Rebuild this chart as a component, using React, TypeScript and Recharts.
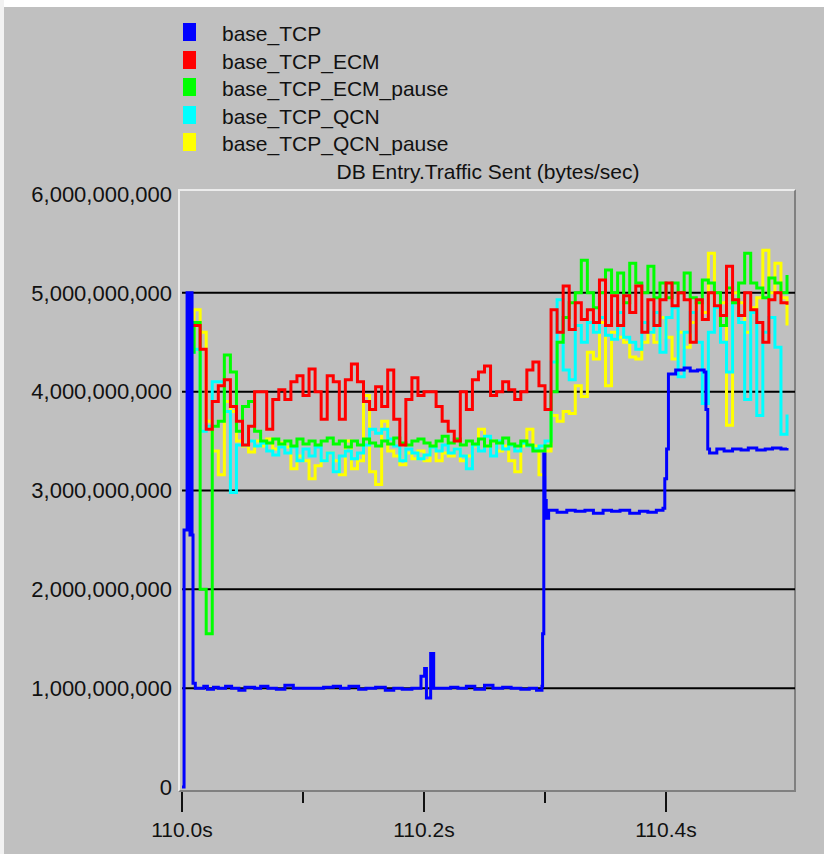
import { LineChart, Line, XAxis, YAxis, CartesianGrid } from "recharts";

const FONT = '"Liberation Sans", Arial, sans-serif';
const GB = 1e9; // series below are in 1e9 bytes/sec

// sample times (s) shared by the ECM / QCN runs
const times = [
  110.0, 110.005, 110.01, 110.015, 110.02, 110.025, 110.03, 110.035, 110.04, 110.045,
  110.05, 110.055, 110.06, 110.065, 110.07, 110.075, 110.08, 110.085, 110.09, 110.095,
  110.1, 110.105, 110.11, 110.115, 110.12, 110.125, 110.13, 110.135, 110.14, 110.145,
  110.15, 110.155, 110.16, 110.165, 110.17, 110.175, 110.18, 110.185, 110.19, 110.195,
  110.2, 110.205, 110.21, 110.215, 110.22, 110.225, 110.23, 110.235, 110.24, 110.245,
  110.25, 110.255, 110.26, 110.265, 110.27, 110.275, 110.28, 110.285, 110.29, 110.295,
  110.3, 110.305, 110.31, 110.315, 110.32, 110.325, 110.33, 110.335, 110.34, 110.345,
  110.35, 110.355, 110.36, 110.365, 110.37, 110.375, 110.38, 110.385, 110.39, 110.395,
  110.4, 110.405, 110.41, 110.415, 110.42, 110.425, 110.43, 110.435, 110.44, 110.445,
  110.45, 110.455, 110.46, 110.465, 110.47, 110.475, 110.48, 110.485, 110.49, 110.495,
  110.5,
];

const tcpEcm = [
  null, 4.67, 4.67, 4.43, 3.62, 3.9, 4.06, 4.12, 3.85, 3.7,
  3.46, 3.65, 4.0, 4.0, 3.62, 3.92, 4.02, 3.92, 4.1, 4.16,
  3.96, 4.23, 4.0, 3.72, 4.16, 4.1, 3.72, 4.12, 4.28, 4.1,
  3.9, 3.82, 4.05, 3.85, 4.22, 3.72, 3.46, 3.92, 4.14, 3.96,
  4.0, 4.0, 3.85, 3.7, 3.6, 3.5, 4.0, 3.82, 4.12, 4.2,
  4.26, 3.96, 4.0, 4.1, 4.02, 3.92, 4.0, 4.22, 4.3, 4.06,
  3.82, 4.83, 4.6, 5.07, 4.63, 4.9, 4.73, 4.83, 4.7, 5.13,
  4.67, 4.97, 4.67, 4.97, 4.8, 5.07, 4.6, 4.93, 4.67, 4.93,
  5.1, 4.87, 5.0, 4.93, 4.5, 4.93, 4.73, 5.0, 4.87, 4.77,
  5.27, 4.93, 4.77, 5.0, 4.83, 4.7, 4.5, 4.93, 5.0, 4.9,
  4.88,
];

const tcpEcmPause = [
  null, 4.4, 4.7, 2.0, 1.55, 3.65, 3.7, 4.37, 4.2, 3.6,
  3.85, 3.9, 3.6, 3.5, 3.48, 3.52, 3.47, 3.5, 3.45, 3.52,
  3.47, 3.5, 3.46, 3.5, 3.53, 3.47, 3.5, 3.44, 3.5, 3.46,
  3.52, 3.48, 3.45, 3.5, 3.47, 3.53, 3.48, 3.46, 3.5, 3.52,
  3.48, 3.45, 3.5, 3.55, 3.48, 3.52, 3.46, 3.5, 3.47, 3.52,
  3.45, 3.5, 3.48, 3.53, 3.47, 3.45, 3.5, 3.46, 3.4, 3.4,
  3.45, 4.0, 4.5, 4.75, 4.9, 5.0, 5.33, 5.0, 4.85, 5.0,
  5.23, 5.0, 5.2, 4.9, 5.3, 5.1, 5.0, 5.27, 4.95, 5.1,
  4.95, 5.1, 5.0, 5.2, 4.95, 4.9, 5.13, 5.1, 5.0, 4.67,
  5.05, 4.9, 5.1, 5.4, 5.1, 5.05, 4.95, 5.15, 5.1, 5.0,
  5.18,
];

const tcpQcn = [
  null, 4.4, 4.43, 3.6, 3.65, 4.1, 4.1, 3.8, 2.98, 3.46,
  3.46, 3.5, 3.45, 3.48, 3.4, 3.36, 3.44, 3.38, 3.44, 3.3,
  3.42, 3.35, 3.44, 3.3, 3.38, 3.19, 3.35, 3.4, 3.32, 3.38,
  3.46, 3.62, 3.58, 3.62, 3.52, 3.45, 3.3, 3.42, 3.38, 3.32,
  3.36, 3.44, 3.4, 3.46, 3.38, 3.42, 3.35, 3.22, 3.46, 3.4,
  3.55, 3.35, 3.5, 3.42, 3.46, 3.4, 3.48, 3.45, 3.42, 3.45,
  3.5, 4.3, 4.93, 4.22, 4.12, 4.67, 4.5, 4.7, 4.6, 4.75,
  4.57, 4.53, 4.8, 4.55, 4.5, 4.43, 4.7, 4.6, 4.8, 4.4,
  4.75, 4.85, 4.15, 4.6, 4.8, 4.5, 3.88, 4.6, 4.85, 4.5,
  4.2, 4.9, 4.7, 3.92, 4.8, 3.76, 4.6, 4.75, 4.45, 3.57,
  3.77,
];

const tcpQcnPause = [
  null, 4.5, 4.83, 4.6, 3.7, 3.4, 3.16, 3.9, 3.8, 3.5,
  3.45, 3.39, 3.5, 3.45, 3.52, 3.42, 3.48, 3.44, 3.22, 3.35,
  3.3, 3.12, 3.25, 3.3, 3.38, 3.3, 3.16, 3.5, 3.22, 3.3,
  3.96, 3.19, 3.06, 3.7, 3.4, 3.35, 3.26, 3.38, 3.32, 3.4,
  3.3, 3.45, 3.3, 3.38, 3.35, 3.42, 3.3, 3.35, 3.45, 3.62,
  3.45, 3.5, 3.4, 3.45, 3.3, 3.19, 3.45, 3.62, 3.45, 3.16,
  3.4, 3.76, 3.7, 3.8, 3.78, 4.06, 3.95, 4.4, 4.33, 4.7,
  4.06, 4.6, 4.55, 4.5, 4.35, 4.33, 4.5, 4.6, 4.5, 4.75,
  4.55, 4.33, 4.6, 4.45, 4.7, 4.9, 4.8, 5.4, 4.85, 4.9,
  3.66, 5.0, 4.9, 4.6, 4.85, 4.95, 5.43, 5.0, 5.3, 4.95,
  4.67,
];

// plain TCP run, logged at its change points
const tcpTimes = [
  110.0, 110.0017, 110.0042, 110.005, 110.0058, 110.0066, 110.0075, 110.0083, 110.0091, 110.011,
  110.018, 110.021, 110.026, 110.03, 110.036, 110.041, 110.047, 110.052, 110.06, 110.065,
  110.071, 110.078, 110.085, 110.092, 110.1, 110.11, 110.117, 110.125, 110.131, 110.138,
  110.146, 110.152, 110.16, 110.168, 110.175, 110.182, 110.19, 110.1975, 110.2005, 110.202,
  110.2055, 110.208, 110.215, 110.222, 110.228, 110.235, 110.242, 110.25, 110.257, 110.265,
  110.272, 110.28, 110.287, 110.293, 110.2975, 110.298, 110.299, 110.3, 110.301, 110.303,
  110.31, 110.318, 110.325, 110.333, 110.34, 110.348, 110.355, 110.362, 110.37, 110.378,
  110.385, 110.392, 110.3975, 110.399, 110.4005, 110.402, 110.408, 110.415, 110.42, 110.426,
  110.4315, 110.433, 110.4345, 110.436, 110.442, 110.448, 110.455, 110.462, 110.468, 110.475,
  110.482, 110.488, 110.495, 110.5,
];

const tcpValues = [
  0, 2.6, 5.0, 2.6, 5.0, 2.55, 5.0, 2.55, 1.05, 1.0,
  1.02, 0.99, 1.01, 1.0, 1.02, 1.0, 0.98, 1.01, 1.0, 1.02,
  1.0, 0.99, 1.03, 1.0, 1.0, 1.0, 1.01, 1.02, 1.0, 1.02,
  0.99, 1.0, 1.01, 0.98, 1.0, 0.99, 1.0, 1.12, 1.2, 0.9,
  1.35, 1.0, 1.0, 1.01, 1.0, 1.02, 0.99, 1.03, 1.0, 1.01,
  1.0, 0.99, 1.0, 0.98, 1.02, 1.55, 3.37, 2.9, 2.72, 2.8,
  2.78, 2.8, 2.79, 2.8, 2.77, 2.8, 2.79, 2.8, 2.77, 2.79,
  2.78, 2.8, 2.82, 3.12, 3.42, 4.18, 4.22, 4.24, 4.21, 4.22,
  4.2, 3.82, 3.42, 3.38, 3.42, 3.4, 3.42, 3.41, 3.43, 3.41,
  3.42, 3.43, 3.42, 3.43,
];

const yTicks = [0, 1e9, 2e9, 3e9, 4e9, 5e9, 6e9];
const gridValues = [1e9, 2e9, 3e9, 4e9, 5e9];
const xTicks = [110.0, 110.1, 110.2, 110.3, 110.4];

const legendNames = ["base_TCP", "base_TCP_ECM", "base_TCP_ECM_pause", "base_TCP_QCN", "base_TCP_QCN_pause"];
const legendColors = ["#0000ff", "#ff0000", "#00ff00", "#00ffff", "#ffff00"];

const rows = (vals: (number | null)[]) =>
  times.map((t, i) => ({ t, v: vals[i] == null ? null : (vals[i] as number) * GB }));
const tcpRows = tcpTimes.map((t, i) => ({ t, v: tcpValues[i] * GB }));

function TimeTick(props: any) {
  const { x, y, index } = props;
  const major = index % 2 === 0;
  return (
    <g>
      <line x1={x} x2={x} y1={y + 5} y2={y + (major ? 25 : 16)} stroke="#111" strokeWidth={2} />
      {major && (
        <text x={x} y={y + 50} textAnchor="middle" fill="#111" fontSize={21} fontFamily={FONT}>
          {xTicks[index].toFixed(1)}s
        </text>
      )}
    </g>
  );
}

export default function App() {
  return (
    <div
      style={{
        position: "absolute",
        left: 0,
        top: 0,
        width: 824,
        height: 854,
        background: "#c0c0c0",
        overflow: "hidden",
        fontFamily: FONT,
      }}
    >
      <div style={{ position: "absolute", left: 0, top: 0, width: 824, height: 7, background: "#fff" }} />
      <div style={{ position: "absolute", left: 0, top: 0, width: 4, height: 854, background: "#f2f2f2" }} />
      {/* sunken frame round the plot */}
      <div
        style={{
          position: "absolute",
          left: 178,
          top: 189,
          width: 796 - 178,
          height: 792 - 189,
          boxSizing: "border-box",
          borderLeft: "2px solid #ececec",
          borderTop: "2px solid #ececec",
          borderRight: "2px solid #808080",
          borderBottom: "2px solid #808080",
        }}
      />
      <div style={{ position: "absolute", left: 0, top: 0 }}>
        <LineChart width={824} height={854} margin={{ top: 194, right: 29, bottom: 37, left: 0 }}>
          <CartesianGrid
            vertical={false}
            horizontalValues={gridValues}
            stroke="#000"
            strokeWidth={2}
          />
          <XAxis
            dataKey="t"
            type="number"
            domain={[110, 110.5066]}
            ticks={xTicks}
            interval={0}
            allowDataOverflow
            height={30}
            axisLine={false}
            tickLine={false}
            tickSize={0}
            tickMargin={0}
            tick={(p: any) => <TimeTick {...p} />}
          />
          <YAxis
            type="number"
            domain={[0, 6e9]}
            ticks={yTicks}
            interval={0}
            width={182}
            axisLine={false}
            tickLine={false}
            tickSize={0}
            tickMargin={10}
            tick={{ fill: "#111", fontSize: 22, fontFamily: FONT }}
            tickFormatter={(v: number) => v.toLocaleString("en-US")}
          />
          <Line data={rows(tcpQcnPause)} dataKey="v" type="stepAfter" stroke="#ffff00" strokeWidth={3} dot={false} isAnimationActive={false} />
          <Line data={rows(tcpQcn)} dataKey="v" type="stepAfter" stroke="#00ffff" strokeWidth={3} dot={false} isAnimationActive={false} />
          <Line data={rows(tcpEcmPause)} dataKey="v" type="stepAfter" stroke="#00ff00" strokeWidth={3} dot={false} isAnimationActive={false} />
          <Line data={rows(tcpEcm)} dataKey="v" type="stepAfter" stroke="#ff0000" strokeWidth={3} dot={false} isAnimationActive={false} />
          <Line data={tcpRows} dataKey="v" type="stepAfter" stroke="#0000ff" strokeWidth={3} dot={false} isAnimationActive={false} />
        </LineChart>
      </div>
      {legendNames.map((name, i) => (
        <div
          key={name}
          style={{
            position: "absolute",
            left: 183,
            top: 22 + i * 27.5,
            height: 24,
            display: "flex",
            alignItems: "flex-start",
            whiteSpace: "nowrap",
          }}
        >
          <span style={{ display: "block", width: 13, height: 18, marginTop: 1, background: legendColors[i] }} />
          <span style={{ marginLeft: 26, fontSize: 21, lineHeight: "24px", color: "#111" }}>{name}</span>
        </div>
      ))}
      <div
        style={{
          position: "absolute",
          left: 288,
          top: 160,
          width: 400,
          textAlign: "center",
          fontSize: 21,
          lineHeight: "24px",
          color: "#111",
          whiteSpace: "nowrap",
        }}
      >
        DB Entry.Traffic Sent (bytes/sec)
      </div>
    </div>
  );
}
